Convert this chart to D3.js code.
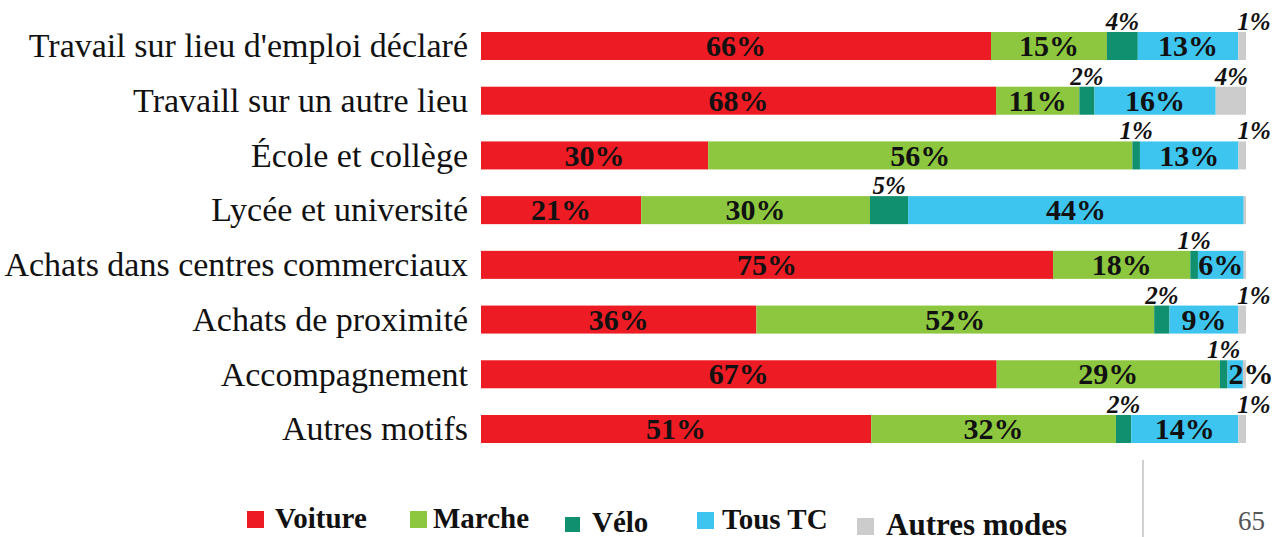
<!DOCTYPE html>
<html>
<head>
<meta charset="utf-8">
<script src="https://cdn.jsdelivr.net/npm/d3@7"></script>
<style>
	body { margin: 0; background: #fff; }
	svg { display: block; font-family: "Liberation Serif", "Times New Roman", serif; }
</style>
</head>
<body>
<svg id="chart" width="1272" height="537"></svg>
<script>
"use strict";

// CATEGORIES
const motifs = [
	"Travail sur lieu d'emploi déclaré",
	"Travaill sur un autre lieu",
	"École et collège",
	"Lycée et université",
	"Achats dans centres commerciaux",
	"Achats de proximité",
	"Accompagnement",
	"Autres motifs",
];

// SERIES (share of trips, %)
const modes = ["Voiture", "Marche", "Vélo", "Tous TC", "Autres modes"];
const voiture = [66, 68, 30, 21, 75, 36, 67, 51];
const marche = [15, 11, 56, 30, 18, 52, 29, 32];
const velo = [4, 2, 1, 5, 1, 2, 1, 2];
const tousTC = [13, 16, 13, 44, 6, 9, 2, 14];
const autres = [1, 4, 1, 0.3, 0.3, 1, 0.4, 1];

const modeColors = ["#ed1c24", "#8dc63f", "#119070", "#3ec5ef", "#cccccc"];
// which series print their label above the bar in italics
const smallModes = ["Vélo", "Autres modes"];

const rows = motifs.map((m, i) => ({
	motif: m,
	"Voiture": voiture[i],
	"Marche": marche[i],
	"Vélo": velo[i],
	"Tous TC": tousTC[i],
	"Autres modes": autres[i],
}));

const svg = d3.select("#chart");

const x = d3.scaleLinear().domain([0, 1]).range([481, 1246]);
const y = d3.scaleBand().domain(motifs).range([32, 443]).paddingInner(0.488).paddingOuter(0);
const color = d3.scaleOrdinal().domain(modes).range(modeColors);

const series = d3.stack().keys(modes).offset(d3.stackOffsetExpand)(rows);

// Category labels
svg.append("g")
	.selectAll("text")
	.data(motifs)
	.join("text")
	.attr("x", 468)
	.attr("y", (d) => y(d) + y.bandwidth() / 2)
	.attr("dy", "0.33em")
	.attr("text-anchor", "end")
	.attr("fill", "#111")
	.style("font-size", "34px")
	.text((d) => d);

// Bars
const layer = svg.append("g")
	.selectAll("g")
	.data(series)
	.join("g")
	.attr("fill", (s) => color(s.key));

layer.selectAll("rect")
	.data((s) => s.map((d) => Object.assign(d, { key: s.key })))
	.join("rect")
	.attr("x", (d) => x(d[0]))
	.attr("y", (d) => y(d.data.motif))
	.attr("width", (d) => Math.max(0, x(d[1]) - x(d[0])))
	.attr("height", y.bandwidth());

// Value labels
const labels = svg.append("g").style("font-weight", "bold").attr("fill", "#111");

series.forEach((s) => {
	s.forEach((d) => {
		const v = d.data[s.key];
		if (v < 1) return;
		const x0 = x(d[0]);
		const x1 = x(d[1]);
		const top = y(d.data.motif);
		const txt = Math.round(v) + "%";
		if (smallModes.includes(s.key)) {
			labels.append("text")
				.attr("x", s.key === "Vélo" ? (x0 + x1) / 2 : x0 - 1)
				.attr("y", top - 2)
				.attr("text-anchor", s.key === "Vélo" ? "middle" : "start")
				.style("font-style", "italic")
				.style("font-size", "25px")
				.text(txt);
		} else {
			const narrow = x1 - x0 < 30;
			labels.append("text")
				.attr("x", narrow ? x0 + 1 : (x0 + x1) / 2)
				.attr("y", top + y.bandwidth() / 2)
				.attr("dy", "0.34em")
				.attr("text-anchor", narrow ? "start" : "middle")
				.style("font-size", "30px")
				.text(txt);
		}
	});
});

// Legend
const legendPos = [
	{ x: 247, y: 511, s: 17, tx: 275, ty: 528, fs: 29 },
	{ x: 410, y: 511, s: 17, tx: 433, ty: 528, fs: 29 },
	{ x: 565, y: 517, s: 15, tx: 592, ty: 532, fs: 29 },
	{ x: 697, y: 512, s: 17, tx: 722, ty: 529, fs: 29 },
	{ x: 857, y: 518, s: 17, tx: 886, ty: 535, fs: 31 },
];
const legend = svg.append("g")
	.selectAll("g")
	.data(modes)
	.join("g");

legend.append("rect")
	.attr("x", (d, i) => legendPos[i].x)
	.attr("y", (d, i) => legendPos[i].y)
	.attr("width", (d, i) => legendPos[i].s)
	.attr("height", (d, i) => legendPos[i].s)
	.attr("fill", (d) => color(d));

legend.append("text")
	.attr("x", (d, i) => legendPos[i].tx)
	.attr("y", (d, i) => legendPos[i].ty)
	.style("font-size", (d, i) => legendPos[i].fs + "px")
	.style("font-weight", "bold")
	.attr("fill", "#111")
	.text((d) => d);

// Slide decoration: separator and page number
svg.append("line")
	.attr("x1", 1143).attr("x2", 1143)
	.attr("y1", 460).attr("y2", 537)
	.attr("stroke", "#d0d0d0")
	.attr("stroke-width", 2);

svg.append("text")
	.attr("x", 1265)
	.attr("y", 530)
	.attr("text-anchor", "end")
	.style("font-size", "27px")
	.attr("fill", "#555")
	.text("65");
</script>
</body>
</html>
